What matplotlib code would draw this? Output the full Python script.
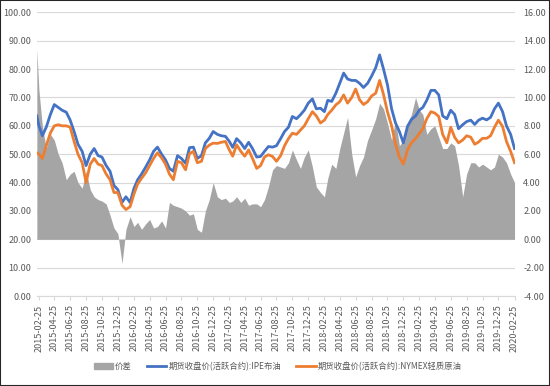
import pandas as pd
import matplotlib.pyplot as plt
import matplotlib.dates as mdates
from matplotlib.patches import Rectangle, Patch
from matplotlib.lines import Line2D

plt.rcParams['font.family'] = ['Noto Sans CJK SC', 'DejaVu Sans']

# sample dates: one start point, then the 10th and 25th of each month
dates = [pd.Timestamp('2015-02-17'), pd.Timestamp('2015-02-25')]
for m in pd.date_range('2015-03-01', '2020-02-01', freq='MS'):
    dates.append(m + pd.Timedelta(days=9))
    dates.append(m + pd.Timedelta(days=24))

# IPE Brent (left axis)
brent = [63.5, 60, 56.5, 59.5, 64, 67.5, 66.5, 65.5, 64.8, 62, 58,
         53.5, 51, 46, 50, 52, 49.5, 49, 46, 44, 39,
         37.5, 33, 35, 33, 38, 41, 43, 45.5, 48, 51,
         52.5, 50, 48, 45, 44, 49.5, 48.5, 46.8, 52.3, 52.5,
         48.5, 49.5, 54, 55.6, 58, 57, 56.5, 56.3, 54.5, 52.4,
         55.5, 54, 52, 54.2, 52, 49, 49.2, 51, 52.7, 52.5,
         53, 55.5, 58, 59.5, 63.3, 62.5, 63.9, 65.5, 68, 69.5,
         66, 66.2, 65, 69, 68.6, 71.5, 75, 78.6, 76.5, 76,
         76, 75, 73.5, 75, 77.5, 80.5, 85, 80, 74.5, 66,
         61, 58, 54, 59.8, 62.2, 63.5, 65.6, 66.5, 69, 72.5,
         72.5, 70.9, 63.5, 62.5, 65.5, 64, 59, 60.4, 61.5, 62,
         60.5, 62, 62.7, 62.1, 63, 66, 68, 65, 60, 57,
         52]

# NYMEX WTI (left axis)
wti = [50.5, 50, 48.5, 53, 57.5, 60, 60.4, 60, 60, 59.5, 54.5,
       50, 47, 40, 46.5, 48.5, 46.5, 46, 43, 41, 36.5,
       36.5, 32, 30.5, 31.5, 36, 39.5, 41.5, 43.5, 46, 48.5,
       50.5, 48.7, 46.5, 43, 41, 47.5, 47, 44.5, 50.2, 51,
       47, 47.5, 52, 53.2, 53.9, 53.8, 54.2, 54.5, 51.5, 49.3,
       53.3, 51, 49.3, 51.5, 48.5, 45, 46, 49, 49.8, 49.2,
       47.5, 49.5, 53, 55.5, 57.4, 57, 58.5, 60, 62.5, 65,
       63.5, 61, 62, 64, 65.5, 67.4, 68.5, 70.9, 68, 70,
       73, 69.2, 67.5, 68.5, 70.5, 71.5, 76, 71, 65, 60,
       53.5, 49, 46.5, 51.5, 54, 55.5, 57.4, 59, 62.5, 65,
       64.5, 63.3, 57, 54, 59.5, 56, 54, 55, 56.5, 56,
       53.5, 54.3, 55.6, 55.6, 56.5, 59.5, 62, 59.8, 54.5, 51,
       47]

# spread (right axis)
spread = [13.4, 10.5, 8.0, 6.4, 7.4, 7.0, 6.0, 5.4, 4.2, 4.6, 4.8,
          4.0, 3.6, 4.8, 3.5, 3.0, 2.8, 2.7, 2.5, 1.7, 0.8,
          0.4, -1.7, 0.7, 1.6, 0.9, 1.2, 0.7, 1.1, 1.4, 0.8,
          0.9, 1.3, 0.8, 2.6, 2.4, 2.3, 2.2, 2.0, 1.7, 1.8,
          0.7, 0.5, 2.0, 2.8, 4.0, 3.0, 2.8, 2.9, 2.6, 2.7,
          3.0, 2.6, 2.9, 2.4, 2.5, 2.5, 2.3, 2.8, 3.7, 4.9,
          5.2, 5.1, 5.0, 5.4, 6.3, 5.6, 5.0, 5.8, 6.3, 5.1,
          3.7, 3.3, 3.0, 4.3, 5.3, 5.0, 6.4, 7.5, 8.6, 6.0,
          4.4, 5.2, 5.8, 7.0, 7.7, 8.5, 9.6, 9.2, 8.2, 7.0,
          8.4, 6.6, 7.0, 8.2, 8.8, 10.0, 9.1, 8.8, 7.4, 7.8,
          8.0, 7.2, 6.4, 6.4, 6.8, 6.6, 5.2, 3.0, 4.6, 5.4,
          5.4, 5.1, 5.3, 5.1, 4.9, 5.1, 6.0, 5.8, 5.4, 4.6,
          4.0]

labels = ['价差', '期货收盘价(活跃合约):IPE布油', '期货收盘价(活跃合约):NYMEX轻质原油']
text_color = '#595959'

fig = plt.figure(figsize=(5.5, 3.86), dpi=100)
ax_r = fig.add_axes([0.067, 0.233, 0.869, 0.735])
ax = ax_r.twinx()
ax.yaxis.tick_left()
ax_r.yaxis.tick_right()
ax.set_zorder(ax_r.get_zorder() + 1)
ax.patch.set_visible(False)

ax_r.fill_between(dates, 0, spread, color='#A5A5A5', lw=0, zorder=2)
ax.plot(dates, brent, color='#4472C4', lw=2.0)
ax.plot(dates, wti, color='#ED7D31', lw=2.0)

ax.set_ylim(0, 100)
ax.set_yticks(range(0, 101, 10))
ax.set_yticklabels([f'{v:.2f}' for v in range(0, 101, 10)])
ax_r.set_ylim(-4, 16)
ax_r.set_yticks(range(-4, 17, 2))
ax_r.set_yticklabels([f'{v:.2f}' for v in range(-4, 17, 2)])
ax_r.grid(axis='y', color='#D9D9D9', lw=0.8, zorder=0)

xticks = [d + pd.Timedelta(days=24) for d in pd.date_range('2015-02-01', '2020-02-01', freq='2MS')]
ax_r.set_xticks(xticks)
ax_r.xaxis.set_major_formatter(mdates.DateFormatter('%Y-%m-%d'))
ax_r.set_xlim(dates[0], pd.Timestamp('2020-02-26'))
ax.set_xlim(dates[0], pd.Timestamp('2020-02-26'))

for a in (ax, ax_r):
    for s in a.spines.values():
        s.set_visible(False)
    a.tick_params(length=0, labelsize=6.5, colors=text_color)
ax_r.spines['bottom'].set_visible(True)
ax_r.spines['bottom'].set_color('#D9D9D9')
ax_r.tick_params(axis='x', rotation=90, pad=3, length=3, color='#D9D9D9')
ax_r.tick_params(axis='y', pad=6)
ax.tick_params(axis='y', pad=4)

handles = [Patch(color='#A5A5A5'),
           Line2D([], [], color='#4472C4', lw=2),
           Line2D([], [], color='#ED7D31', lw=2)]
fig.legend(handles, labels, loc='center', bbox_to_anchor=(0.505, 0.05), ncol=3,
           frameon=False, fontsize=6, labelcolor=text_color, handlelength=2.3,
           handleheight=0.7, columnspacing=1.8, handletextpad=0.3)

fig.patches.append(Rectangle((0, 0), 1, 1, transform=fig.transFigure, fill=False,
                             edgecolor='#262626', lw=1.5))

fig.savefig('out.png', dpi=100)
